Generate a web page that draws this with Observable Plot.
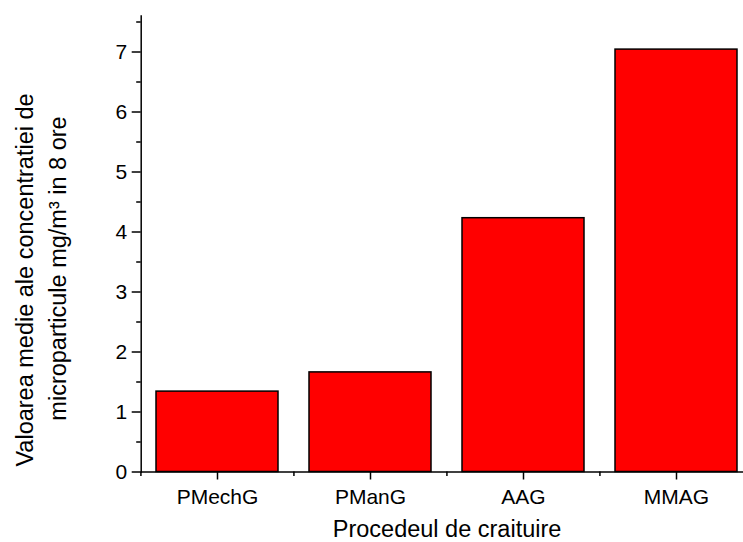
<!DOCTYPE html>
<html><head><meta charset="utf-8">
<script src="https://cdn.jsdelivr.net/npm/d3@7"></script>
<script src="https://cdn.jsdelivr.net/npm/@observablehq/plot@0.6"></script>
<style>html,body{margin:0;padding:0;background:#fff}#chart svg{display:block}</style>
</head><body><div id="chart"></div>
<script>
const categories = ["PMechG", "PManG", "AAG", "MMAG"];
const values = [1.34, 1.66, 4.23, 7.04];
const yMajorTicks = [0, 1, 2, 3, 4, 5, 6, 7];
const yMinorTicks = [0.5, 1.5, 2.5, 3.5, 4.5, 5.5, 6.5, 7.5];
const xTitle = "Procedeul de craituire";
const yTitle1 = "Valoarea medie ale concentratiei de";
const yTitle2 = "microparticule mg/m³ in 8 ore";

const data = categories.map((c, i) => ({category: c, value: values[i]}));

const W = 743, H = 542, ML = 140.7, MT = 15.5, MB = 70.5, XR = 753.3;
const step = (XR - ML) / categories.length;
const font = "'Liberation Sans', Arial, Helvetica, sans-serif";

const chart = Plot.plot({
  width: W, height: H,
  marginLeft: ML, marginRight: 0, marginTop: MT, marginBottom: MB,
  style: {fontFamily: font, fontSize: "21px", color: "#000", background: "#fff"},
  x: {domain: categories, range: [ML, XR], paddingInner: 0.2, paddingOuter: 0.1, label: null},
  y: {domain: [0, 7.6], label: null},
  marks: [
    Plot.barY(data, {x: "category", y: "value", fill: "#ff0000", stroke: "#000", strokeWidth: 1.5}),
    Plot.frame({anchor: "left", stroke: "#000", strokeWidth: 1.5}),
    Plot.ruleY([0], {stroke: "#000", strokeWidth: 1.5}),
    Plot.axisY({ticks: yMajorTicks, tickSize: 9, tickPadding: 5, fontSize: 21, strokeWidth: 1.5, label: null}),
    Plot.axisY({ticks: yMinorTicks, tickSize: 4.5, tickFormat: () => "", strokeWidth: 1.5, label: null}),
    Plot.axisX({tickSize: 8, tickPadding: 9, fontSize: 21, strokeWidth: 1.5, label: null}),
    Plot.axisX({tickSize: 4.5, dx: -step / 2, tickFormat: () => "", strokeWidth: 1.5, label: null}),
    Plot.text([xTitle], {text: d => d, frameAnchor: "bottom", dx: 4.7, dy: 57, fontSize: 23.5, textAnchor: "middle", lineAnchor: "middle"}),
    Plot.text([yTitle1], {text: d => d, frameAnchor: "left", rotate: -90, dx: 24.6 - ML, dy: 36, fontSize: 23.5, textAnchor: "middle", lineAnchor: "middle"}),
    Plot.text([yTitle2], {text: d => d, frameAnchor: "left", rotate: -90, dx: 57.6 - ML, dy: 24.5, fontSize: 23.5, textAnchor: "middle", lineAnchor: "middle"})
  ]
});
document.getElementById("chart").appendChild(chart);
</script>
</body></html>
